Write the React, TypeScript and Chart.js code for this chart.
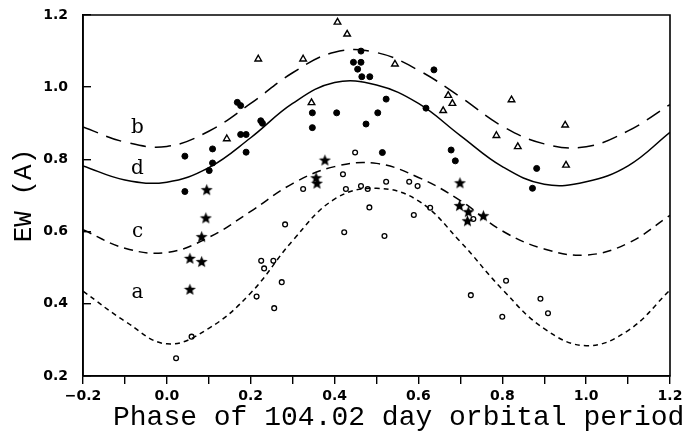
import React, { useEffect, useRef } from 'react';
import { Chart, registerables } from 'chart.js';

Chart.register(...registerables);

// ---- Data ----
const phaseGrid = [-0.2, -0.1, 0.0, 0.1, 0.2, 0.3, 0.4, 0.5, 0.6, 0.7, 0.8, 0.9, 1.0, 1.1, 1.2];
const curveB = [0.890, 0.848, 0.836, 0.878, 0.955, 1.040, 1.097, 1.096, 1.047, 0.973, 0.892, 0.843, 0.835, 0.879, 0.952];
const curveD = [0.782, 0.743, 0.737, 0.777, 0.860, 0.955, 1.013, 1.006, 0.955, 0.866, 0.780, 0.731, 0.738, 0.782, 0.875];
const curveC = [0.605, 0.554, 0.542, 0.584, 0.656, 0.733, 0.780, 0.789, 0.750, 0.686, 0.602, 0.552, 0.535, 0.568, 0.645];
const curveA = [0.435, 0.352, 0.289, 0.332, 0.430, 0.575, 0.690, 0.720, 0.685, 0.572, 0.440, 0.331, 0.284, 0.326, 0.438];

const filledCircles: [number, number][] = [
  [0.043, 0.809], [0.109, 0.829], [0.168, 0.958], [0.176, 0.949], [0.176, 0.869], [0.189, 0.869],
  [0.224, 0.907], [0.228, 0.900], [0.189, 0.820], [0.109, 0.790], [0.101, 0.769], [0.043, 0.711],
  [0.463, 1.100], [0.445, 1.069], [0.463, 1.069], [0.455, 1.050], [0.465, 1.029], [0.484, 1.029],
  [0.523, 0.967], [0.347, 0.929], [0.405, 0.929], [0.503, 0.929], [0.347, 0.888], [0.475, 0.898],
  [0.514, 0.819], [0.618, 0.942], [0.637, 1.048], [0.678, 0.826], [0.688, 0.796], [0.882, 0.775],
  [0.872, 0.720],
];

const openTriangles: [number, number][] = [
  [0.218, 1.078], [0.143, 0.857], [0.407, 1.180], [0.430, 1.147], [0.325, 1.078], [0.544, 1.064],
  [0.345, 0.957], [0.671, 0.977], [0.681, 0.955], [0.659, 0.935], [0.822, 0.965], [0.786, 0.866],
  [0.837, 0.835], [0.950, 0.895], [0.952, 0.784],
];

const stars: [number, number][] = [
  [0.095, 0.716], [0.093, 0.638], [0.083, 0.586], [0.055, 0.526], [0.083, 0.517], [0.055, 0.440],
  [0.377, 0.798], [0.356, 0.749], [0.358, 0.734], [0.699, 0.735], [0.698, 0.672], [0.719, 0.655],
  [0.717, 0.630], [0.755, 0.644],
];

const openCircles: [number, number][] = [
  [0.022, 0.249], [0.059, 0.309], [0.282, 0.620], [0.225, 0.519], [0.254, 0.519], [0.232, 0.498],
  [0.274, 0.460], [0.214, 0.420], [0.256, 0.388], [0.449, 0.819], [0.420, 0.759], [0.325, 0.718],
  [0.427, 0.718], [0.463, 0.726], [0.479, 0.718], [0.523, 0.738], [0.578, 0.738], [0.598, 0.726],
  [0.483, 0.667], [0.423, 0.598], [0.519, 0.588], [0.589, 0.646], [0.628, 0.666], [0.731, 0.635],
  [0.809, 0.464], [0.725, 0.424], [0.891, 0.414], [0.800, 0.364], [0.909, 0.374],
];

// axis extents and tick labels
const xRange = [-0.2, 1.2];
const yRange = [0.2, 1.2];
const xTickLabels = ['\u22120.2', '0.0', '0.2', '0.4', '0.6', '0.8', '1.0', '1.2'];
const yTickLabels = ['0.2', '0.4', '0.6', '0.8', '1.0', '1.2'];

const curveNames = ['b', 'd', 'c', 'a'];
const curveNamePhase = [-0.07, -0.07, -0.07, -0.07];
const curveNameEW = [0.873, 0.760, 0.584, 0.417];

const xTitle = 'Phase of 104.02 day orbital period';
const yTitle = 'EW (A)';

const toPts = (arr: [number, number][]) => arr.map(([x, y]) => ({ x, y }));
const curvePts = (ys: number[]) => phaseGrid.map((x, i) => ({ x, y: ys[i] }));
const framePts = [
  { x: xRange[0], y: yRange[0] }, { x: xRange[1], y: yRange[0] },
  { x: xRange[1], y: yRange[1] }, { x: xRange[0], y: yRange[1] },
  { x: xRange[0], y: yRange[0] },
];

function makeStar(size: number) {
  const c = document.createElement('canvas');
  c.width = size;
  c.height = size;
  const g = c.getContext('2d')!;
  const cx = size / 2, cy = size / 2 + 0.5;
  const R = size / 2 - 0.2, r = R * 0.42;
  g.beginPath();
  for (let i = 0; i < 10; i++) {
    const a = -Math.PI / 2 + (i * Math.PI) / 5;
    const rad = i % 2 === 0 ? R : r;
    const px = cx + rad * Math.cos(a), py = cy + rad * Math.sin(a);
    if (i === 0) g.moveTo(px, py); else g.lineTo(px, py);
  }
  g.closePath();
  g.fillStyle = '#000';
  g.fill();
  return c;
}

const textPlugin = {
  id: 'texts',
  afterDraw(chart: any) {
    const ctx: CanvasRenderingContext2D = chart.ctx;
    const xs = chart.scales.x, ys = chart.scales.y;
    ctx.save();
    ctx.fillStyle = '#000';
    ctx.font = '20px "DejaVu Serif"';
    ctx.textAlign = 'center';
    ctx.textBaseline = 'alphabetic';
    curveNames.forEach((n, i) => {
      ctx.fillText(n, xs.getPixelForValue(curveNamePhase[i]), ys.getPixelForValue(curveNameEW[i]));
    });
    ctx.textAlign = 'left';
    ctx.font = '28px "Liberation Mono"';
    ctx.fillText(xTitle, 113, 425);
    ctx.restore();
  },
};

const tickFont = { family: '"DejaVu Sans"', size: 14, weight: 'bold' };

export default function App() {
  const ref = useRef<HTMLCanvasElement>(null);
  useEffect(() => {
    if (!ref.current) return;
    const star = makeStar(13);
    const lineBase = {
      showLine: true,
      pointRadius: 0,
      borderColor: '#000',
      borderWidth: 1.5,
      tension: 0.4,
    };
    const chart = new Chart(ref.current, {
      type: 'scatter',
      data: {
        datasets: [
          {
            label: 'filled',
            data: toPts(filledCircles),
            pointStyle: 'circle',
            pointRadius: 3,
            backgroundColor: '#000',
            borderColor: '#000',
            borderWidth: 1,
          },
          {
            label: 'triangles',
            data: toPts(openTriangles),
            pointStyle: 'triangle',
            pointRadius: 3.8,
            backgroundColor: 'rgba(255,255,255,0)',
            borderColor: '#000',
            borderWidth: 1.4,
          },
          {
            label: 'stars',
            data: toPts(stars),
            pointStyle: star as any,
            pointRadius: 6,
            borderWidth: 0,
            backgroundColor: '#000',
          },
          {
            label: 'open',
            data: toPts(openCircles),
            pointStyle: 'circle',
            pointRadius: 2.4,
            backgroundColor: 'rgba(255,255,255,0)',
            borderColor: '#000',
            borderWidth: 1.3,
          },
          { label: 'b', data: curvePts(curveB), ...lineBase, borderDash: [16, 9] },
          { label: 'd', data: curvePts(curveD), ...lineBase },
          { label: 'c', data: curvePts(curveC), ...lineBase, borderDash: [9, 6] },
          { label: 'a', data: curvePts(curveA), ...lineBase, borderDash: [5, 4] },
          { label: 'frame', data: framePts, showLine: true, pointRadius: 0, borderColor: '#000', borderWidth: 1.6, tension: 0, clip: 4 },
        ] as any,
      },
      options: {
        animation: false,
        responsive: true,
        maintainAspectRatio: false,
        events: [],
        layout: { padding: { top: 15, right: 22, left: 0, bottom: 0 } },
        plugins: { legend: { display: false }, tooltip: { enabled: false } },
        scales: {
          x: {
            type: 'linear',
            min: xRange[0],
            max: xRange[1],
            grid: { display: true, drawOnChartArea: false, drawTicks: true, tickLength: 8, color: '#000', lineWidth: 1.4 },
            border: { display: true, color: '#000', width: 1.6 },
            afterFit: (s: any) => { s.height = 59; s.paddingLeft = 0; s.paddingRight = 0; },
            ticks: {
              stepSize: 0.1,
              color: '#000',
              padding: 4,
              maxRotation: 0,
              autoSkip: false,
              font: tickFont,
              callback: (_v: any, i: number) => (i % 2 === 0 ? xTickLabels[i / 2] : ''),
            },
          },
          y: {
            type: 'linear',
            min: yRange[0],
            max: yRange[1],
            title: {
              display: true,
              text: yTitle,
              color: '#000',
              font: { family: '"Liberation Mono"', size: 26 },
              padding: { top: 9, bottom: 0 },
            },
            grid: { display: true, drawOnChartArea: false, drawTicks: true, tickLength: -8, color: '#000', lineWidth: 1.4 },
            border: { display: true, color: '#000', width: 1.6 },
            afterFit: (s: any) => { s.width = 83; s.paddingTop = 0; s.paddingBottom = 0; },
            ticks: {
              stepSize: 0.2,
              color: '#000',
              padding: 23,
              autoSkip: false,
              font: tickFont,
              callback: (_v: any, i: number) => yTickLabels[i],
            },
          },
        },
      } as any,
      plugins: [textPlugin],
    });
    return () => chart.destroy();
  }, []);

  return (
    <div style={{ position: 'fixed', left: 0, top: 0, width: 692, height: 435, background: '#fff' }}>
      <canvas ref={ref} />
    </div>
  );
}
